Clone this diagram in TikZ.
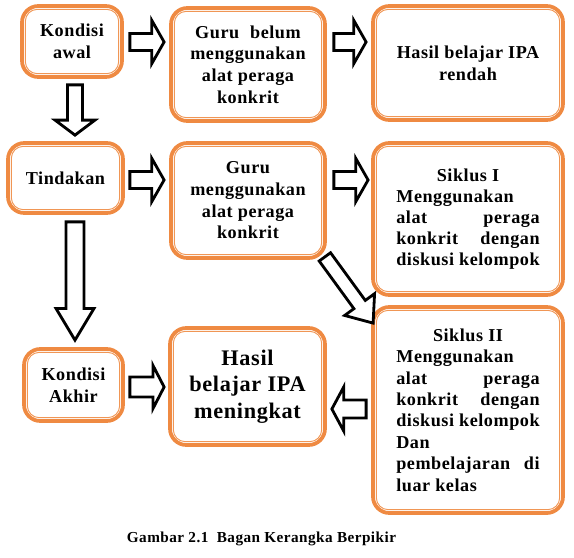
\documentclass[tikz,border=0pt]{standalone}
\usepackage{fontspec}
\setmainfont{Liberation Serif}[LetterSpace=3]
\usepackage{tikz}
\usetikzlibrary{positioning, calc}
\setlength{\parindent}{0pt}
\definecolor{boxline}{RGB}{239,138,66}
\definecolor{boxinner}{RGB}{240,150,85}

\begin{document}
\begin{tikzpicture}[
    x=0.03cm, y=-0.03cm,
    box/.style={draw=boxline, line width=3.2pt, rounded corners=14pt, align=center,
        font=\bfseries\fontsize{15.5}{18.5}\selectfont,
        append after command={\pgfextra{\draw[boxinner, line width=0.8pt, rounded corners=10pt]
            ([shift={(4.5pt,-4.5pt)}]\tikzlastnode.north west) rectangle
            ([shift={(-4.5pt,4.5pt)}]\tikzlastnode.south east);}}},
    blk/.style n args={3}{draw=black, line width=2.4pt, fill=white, line join=miter,
        to path={
            ($(\tikztostart)!#1!90:(\tikztotarget)$) --
            ($(\tikztotarget)!#3!(\tikztostart)!#1!-90:(\tikztostart)$) --
            ($(\tikztotarget)!#3!(\tikztostart)!#2!-90:(\tikztostart)$) --
            (\tikztotarget) --
            ($(\tikztotarget)!#3!(\tikztostart)!#2!90:(\tikztostart)$) --
            ($(\tikztotarget)!#3!(\tikztostart)!#1!90:(\tikztostart)$) --
            ($(\tikztostart)!#1!-90:(\tikztotarget)$) -- cycle}}
]
    \useasboundingbox (0,0) rectangle (574,558);

    % Top row
    \node[box, minimum width=3cm, minimum height=2.13cm] (kawal) at (72,41.5) {Kondisi\\awal};
    \node[box, minimum width=4.62cm, minimum height=3.39cm] (gbelum) at (248,64.5)
        {Guru\hspace{0.6em}belum\\menggunakan\\alat peraga\\konkrit};
    \node[box, minimum width=5.7cm, minimum height=3.42cm] (hrendah) at (468,63) {Hasil belajar IPA\\rendah};

    % Middle row
    \node[box, minimum width=3.45cm, minimum height=2.1cm] (tindakan) at (65.5,178) {Tindakan};
    \node[box, minimum width=4.62cm, minimum height=3.45cm] (gpakai) at (248,200.5)
        {Guru\\menggunakan\\alat peraga\\konkrit};
    \node[box, align=justify, text width=4.3cm, minimum width=5.7cm, minimum height=4.56cm,
        font=\bfseries\fontsize{15.5}{18}\selectfont] (siklusA) at (468,219)
        {{\centering Siklus I\par}Menggunakan\\alat\hfill peraga\\konkrit\hfill dengan\\diskusi kelompok};

    % Bottom row
    \node[box, minimum width=2.97cm, minimum height=2.16cm] (kakhir) at (73.5,385) {Kondisi\\Akhir};
    \node[box, minimum width=4.65cm, minimum height=3.51cm, font=\bfseries\fontsize{19}{22.5}\selectfont]
        (hnaik) at (247.5,386.5) {Hasil\\belajar IPA\\meningkat};
    \node[box, align=justify, text width=4.3cm, minimum width=5.7cm, minimum height=6.18cm,
        font=\bfseries\fontsize{15.5}{18.3}\selectfont] (siklusB) at (468,410)
        {{\centering Siklus II\par}Menggunakan\\alat\hfill peraga\\konkrit\hfill dengan\\diskusi kelompok\\Dan\\pembelajaran\hfill di\\luar kelas};

    % Arrows
    \draw[blk={7.3pt}{18.4pt}{10.5pt}] ($(kawal.east)+(6,0.5)$) to ($(gbelum.west |- kawal.east)+(-5,0.5)$);
    \draw[blk={7.3pt}{18.4pt}{10.5pt}] ($(gbelum.east |- kawal.east)+(7,0.5)$) to ($(hrendah.west |- kawal.east)+(-5,0.5)$);
    \draw[blk={6.4pt}{17pt}{12.8pt}] ($(kawal.south)+(3,6)$) to ($(kawal.south |- tindakan.north)+(3,-6)$);
    \draw[blk={7.3pt}{18.4pt}{10.5pt}] ($(tindakan.east)+(5,2)$) to ($(gpakai.west |- tindakan.east)+(-5,2)$);
    \draw[blk={7.3pt}{18.4pt}{10.5pt}] ($(gpakai.east |- tindakan.east)+(7,2)$) to ($(siklusA.west |- tindakan.east)+(-3,2)$);
    \draw[blk={7.7pt}{16.2pt}{27pt}] ($(tindakan.south)+(9.5,7)$) to ($(tindakan.south |- kakhir.north)+(9.5,-7)$);
    \draw[blk={6pt}{15.8pt}{19.6pt}] ($(gpakai.south east)+(-2,-3)$) to ($(siklusB.north west)+(2,18)$);
    \draw[blk={8.5pt}{18.4pt}{9.5pt}] ($(kakhir.east)+(5,2)$) to ($(hnaik.west |- kakhir.east)+(-4,2)$);
    \draw[blk={7.7pt}{19pt}{10.2pt}] ($(siklusB.west)+(-5,-1)$) to ($(hnaik.east |- siklusB.west)+(5,-1)$);

    % Caption
    \node[font=\bfseries\fontsize{13}{15}\selectfont] (caption) at (261.5,539) {Gambar 2.1\hspace{0.55em}Bagan Kerangka Berpikir};
\end{tikzpicture}
\end{document}
